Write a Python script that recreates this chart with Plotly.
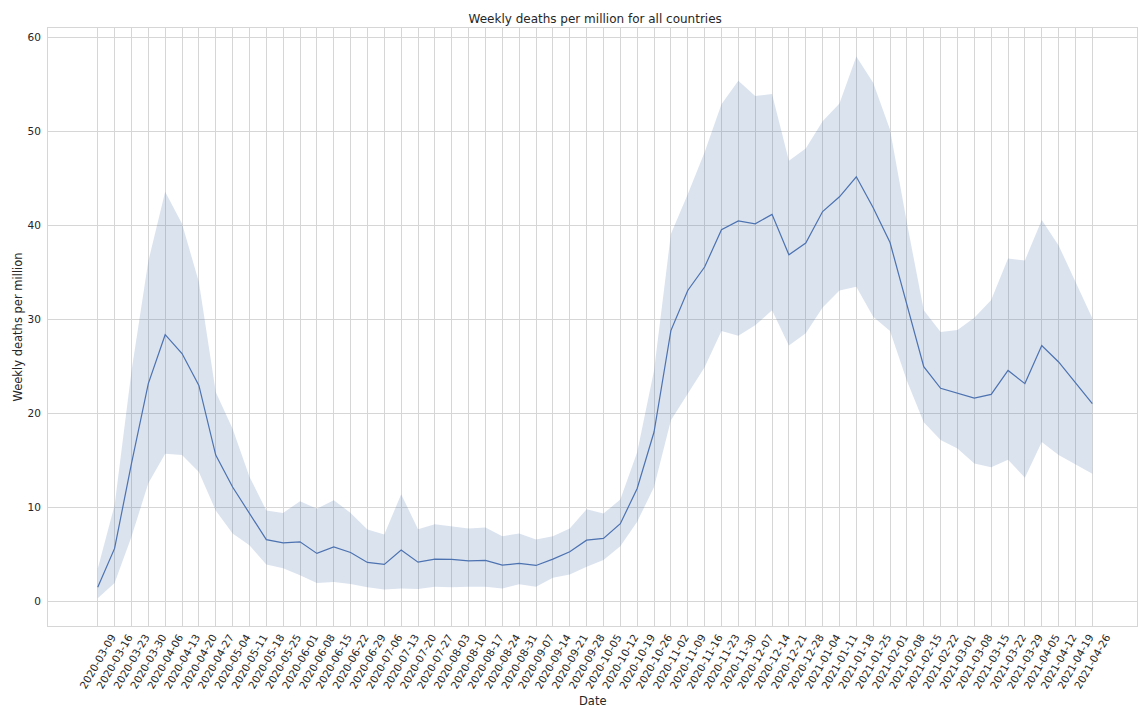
import plotly.graph_objects as go

dates = [
    "2020-03-09", "2020-03-16", "2020-03-23", "2020-03-30", "2020-04-06", "2020-04-13",
    "2020-04-20", "2020-04-27", "2020-05-04", "2020-05-11", "2020-05-18", "2020-05-25",
    "2020-06-01", "2020-06-08", "2020-06-15", "2020-06-22", "2020-06-29", "2020-07-06",
    "2020-07-13", "2020-07-20", "2020-07-27", "2020-08-03", "2020-08-10", "2020-08-17",
    "2020-08-24", "2020-08-31", "2020-09-07", "2020-09-14", "2020-09-21", "2020-09-28",
    "2020-10-05", "2020-10-12", "2020-10-19", "2020-10-26", "2020-11-02", "2020-11-09",
    "2020-11-16", "2020-11-23", "2020-11-30", "2020-12-07", "2020-12-14", "2020-12-21",
    "2020-12-28", "2021-01-04", "2021-01-11", "2021-01-18", "2021-01-25", "2021-02-01",
    "2021-02-08", "2021-02-15", "2021-02-22", "2021-03-01", "2021-03-08", "2021-03-15",
    "2021-03-22", "2021-03-29", "2021-04-05", "2021-04-12", "2021-04-19", "2021-04-26",
]

mean_deaths = [
    1.53, 5.67, 14.7, 23.2, 28.4, 26.4, 23.0, 15.6, 12.2, 9.4,
    6.6, 6.26, 6.37, 5.14, 5.84, 5.24, 4.18, 3.97, 5.49, 4.21,
    4.53, 4.5, 4.35, 4.39, 3.9, 4.07, 3.86, 4.53, 5.31, 6.55,
    6.73, 8.3, 12.04, 18.05, 28.84, 33.1, 35.6, 39.56, 40.5, 40.2,
    41.2, 36.9, 38.15, 41.5, 43.07, 45.2, 41.9, 38.2, 31.5, 25.0,
    22.7, 22.2, 21.66, 22.05, 24.6, 23.2, 27.25, 25.5, 23.25, 21.06,
]

ci_upper = [
    3.5, 10.27, 24.5, 36.2, 43.6, 40.2, 34.0, 22.3, 18.4, 13.3,
    9.7, 9.45, 10.7, 9.9, 10.8, 9.45, 7.68, 7.15, 11.43, 7.72,
    8.25, 8.04, 7.79, 7.9, 6.97, 7.26, 6.62, 6.97, 7.79, 9.84,
    9.38, 10.87, 15.9, 24.6, 39.1, 43.35, 47.8, 52.9, 55.4, 53.8,
    54.0, 46.9, 48.2, 51.1, 53.0, 58.0, 55.2, 50.2, 40.3, 31.0,
    28.7, 28.9, 30.2, 32.1, 36.5, 36.3, 40.6, 37.9, 34.0, 30.15,
]

ci_lower = [
    0.36, 2.0, 6.9, 12.6, 15.75, 15.6, 13.8, 9.7, 7.26, 6.0,
    3.97, 3.55, 2.83, 2.0, 2.1, 1.88, 1.53, 1.31, 1.42, 1.35,
    1.6, 1.53, 1.6, 1.6, 1.42, 1.85, 1.6, 2.55, 2.9, 3.72,
    4.43, 5.91, 8.5, 12.2, 19.3, 22.1, 24.95, 28.8, 28.3, 29.4,
    31.0, 27.25, 28.55, 31.3, 33.1, 33.5, 30.3, 28.8, 23.5, 19.1,
    17.2, 16.3, 14.7, 14.3, 15.1, 13.2, 17.0, 15.6, 14.6, 13.6,
]

y_ticks = [0, 10, 20, 30, 40, 50, 60]

LINE = "#4c72b0"
BAND = "rgba(76,114,176,0.2)"
GRID = "#d6d6d6"
TEXT = "#262626"
FONT = "DejaVu Sans"

fig = go.Figure()
fig.add_trace(go.Scatter(x=dates, y=ci_upper, mode="lines", line=dict(width=0),
                         hoverinfo="skip", showlegend=False))
fig.add_trace(go.Scatter(x=dates, y=ci_lower, mode="lines", line=dict(width=0),
                         fill="tonexty", fillcolor=BAND, hoverinfo="skip", showlegend=False))
fig.add_trace(go.Scatter(x=dates, y=mean_deaths, mode="lines",
                         line=dict(color=LINE, width=1.2), showlegend=False))

fig.update_layout(
    width=1138, height=707,
    margin=dict(l=48, r=1, t=28, b=81, autoexpand=False),
    paper_bgcolor="white", plot_bgcolor="white",
    font=dict(family=FONT, color=TEXT, size=10),
    title=dict(text="Weekly deaths per million for all countries",
               x=0.523, xanchor="center", y=1 - 19 / 707, yanchor="middle",
               font=dict(size=12, color=TEXT, family=FONT)),
    showlegend=False,
)

fig.update_xaxes(
    type="category", categoryorder="array", categoryarray=dates,
    range=[-2.95, 61.65], tickmode="array", tickvals=dates, ticktext=dates,
    tickangle=-60, ticks="", showgrid=True, gridcolor=GRID, gridwidth=1,
    showline=True, linecolor=GRID, linewidth=1, mirror=True, zeroline=False,
    tickfont=dict(size=10.5, color=TEXT, family=FONT), automargin=False,
    ticklabelshift=14, ticklabelstandoff=0,
)
fig.update_yaxes(
    range=[-2.58, 61.02], tickmode="array", tickvals=y_ticks,
    ticktext=[str(v) for v in y_ticks], ticks="", showgrid=True, gridcolor=GRID,
    gridwidth=1, showline=True, linecolor=GRID, linewidth=1, mirror=True,
    zeroline=False, tickfont=dict(size=10.5, color=TEXT, family=FONT), automargin=False,
    ticklabelstandoff=4,
)

fig.add_annotation(text="Date", xref="paper", yref="paper", x=0.5, y=(626 - 701) / 598,
                   xanchor="center", yanchor="middle", showarrow=False,
                   font=dict(size=11.5, color=TEXT, family=FONT))
fig.add_annotation(text="Weekly deaths per million", xref="paper", yref="paper",
                   x=(17.5 - 48) / 1089, y=0.5, xanchor="center", yanchor="middle",
                   textangle=-90, showarrow=False,
                   font=dict(size=11.5, color=TEXT, family=FONT))

fig.write_html("out.html", config={"displayModeBar": False},
               post_script="document.body.style.margin='0';document.body.style.overflow='hidden';")
